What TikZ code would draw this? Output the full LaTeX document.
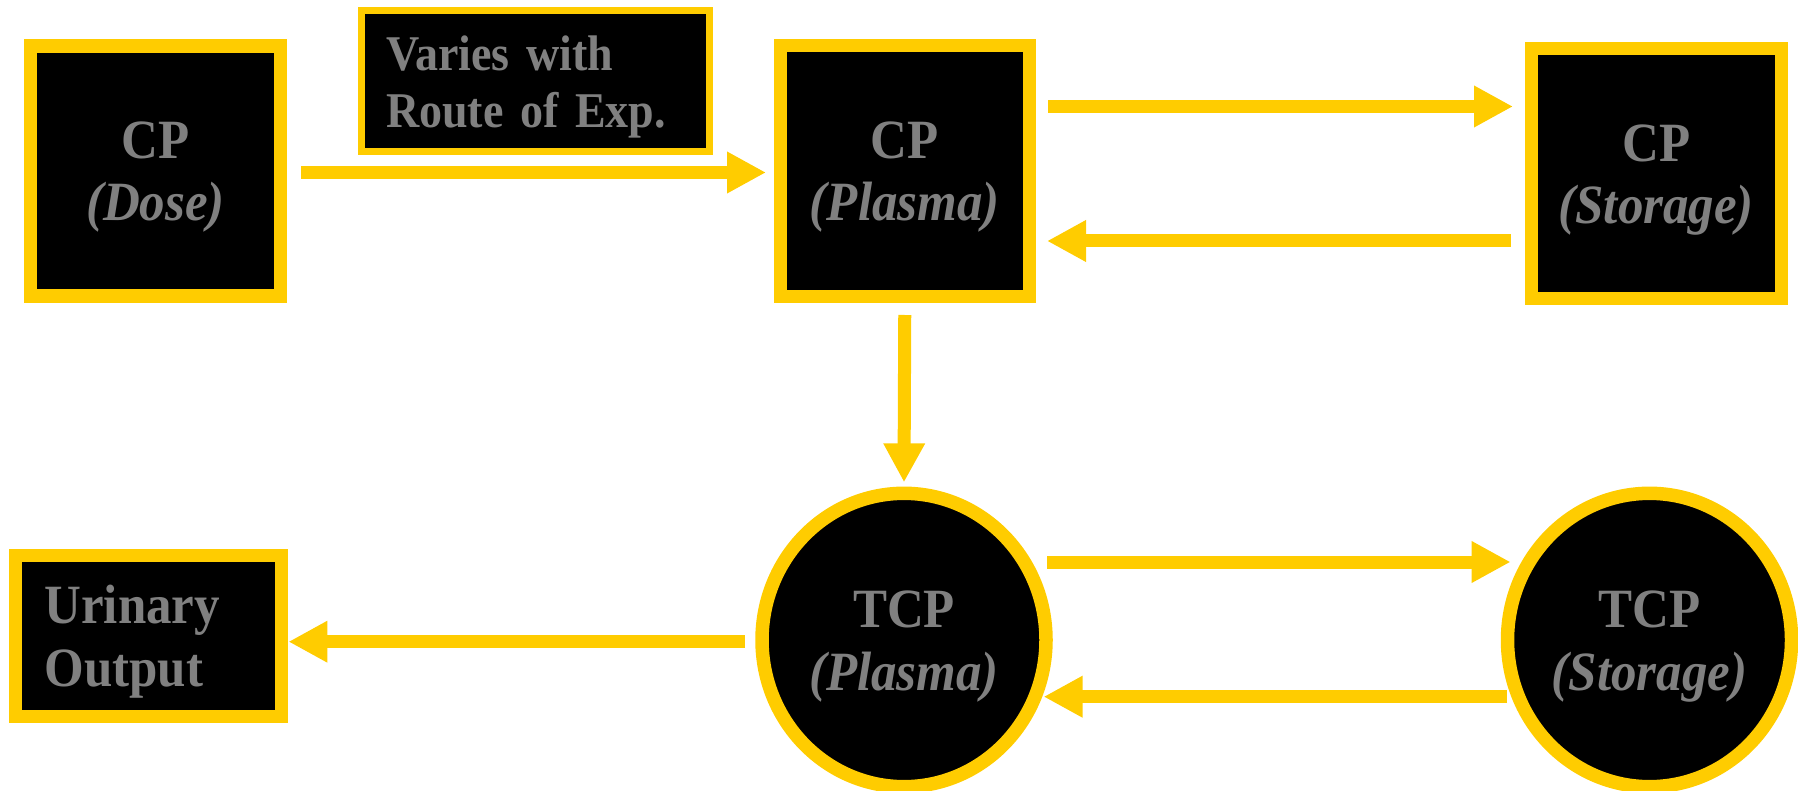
\documentclass[tikz,border=0pt]{standalone}
\usepackage{fontspec}
\setmainfont{Liberation Serif}
\newfontfamily\diagfont{Liberation Serif}[FakeStretch=0.92]
\usetikzlibrary{arrows.meta,shapes.geometric}
\definecolor{goldy}{RGB}{255,204,0}
\definecolor{txtgray}{RGB}{128,128,128}
\newcommand\diagbig{\diagfont\fontsize{27.7}{31.35}\selectfont\bfseries}
\newcommand\diagsmall{\diagfont\fontsize{25}{28.15}\selectfont\bfseries}
\newcommand\bigtwo[2]{\rule{0pt}{26.65pt}#1\\#2\rule[-8pt]{0pt}{8pt}}
\newcommand\smalltwo[2]{\rule{0pt}{25.15pt}#1\\#2\rule[-7pt]{0pt}{7pt}}
\begin{document}
\begin{tikzpicture}[x=0.5pt,y=-0.5pt,
  box/.style={draw=goldy,fill=black,line width=6.5pt,inner sep=0pt,text=txtgray,font=\diagbig,align=center},
  oval/.style={box,ellipse},
  arr/.style={draw=goldy,line width=6.5pt,-{Triangle[length=19.5pt,width=19.5pt]}}]
\useasboundingbox (0,0) rectangle (1798,791);
\node[box,line width=6.75pt,minimum width=125pt,minimum height=125pt] (dose) at (155.5,171) {\bigtwo{CP}{\textit{(Dose)}}};
\node[box,line width=3.5pt,minimum width=174pt,minimum height=70.5pt,inner xsep=12.25pt,text width=149.5pt,align=left,font=\diagsmall] (varies) at (535.5,81) {\smalltwo{Varies with}{Route of Exp.}};
\node[box,minimum width=124.25pt,minimum height=125pt] (plasma) at (904.75,171) {\bigtwo{CP}{\textit{(Plasma)}}};
\node[box,minimum width=124.75pt,minimum height=124.75pt] (storage) at (1656.25,173.75) {\bigtwo{CP}{\textit{(Storage)}}};
\node[box,minimum width=133.35pt,minimum height=80.2pt,inner xsep=14.65pt,text width=104.05pt,align=left] (urine) at (148.6,636) {\bigtwo{Urinary}{Output}};
\node[oval,line width=6.75pt,minimum width=142pt,minimum height=146.7pt] (tcpp) at (904,640) {\bigtwo{TCP}{\textit{(Plasma)}}};
\node[oval,line width=6.75pt,minimum width=142pt,minimum height=146.7pt] (tcps) at (1649.5,640) {\bigtwo{TCP}{\textit{(Storage)}}};
\draw[arr] ([xshift=7pt,yshift=-0.75pt]dose.east) -- ([xshift=-4pt,yshift=-0.75pt]plasma.west);
\draw[arr] ([xshift=6.25pt,yshift=32.25pt]plasma.east) -- ([xshift=-6pt,yshift=33.625pt]storage.west);
\draw[arr] ([xshift=-7.2pt,yshift=-33.625pt]storage.west) -- ([xshift=5.75pt,yshift=-35pt]plasma.east);
\draw[arr] ([yshift=-6.25pt]plasma.south) -- ([yshift=2.1pt]tcpp.north);
\draw[arr] ([xshift=-2.875pt,yshift=39pt]tcpp.east) -- ([xshift=4.925pt,yshift=39pt]tcps.west);
\draw[arr] ([xshift=3.125pt,yshift=-28.35pt]tcps.west) -- ([xshift=-4.575pt,yshift=-28.35pt]tcpp.east);
\draw[arr] ([xshift=-5.125pt,yshift=-0.85pt]tcpp.west) -- ([yshift=-2.85pt]urine.east);
\end{tikzpicture}
\end{document}
